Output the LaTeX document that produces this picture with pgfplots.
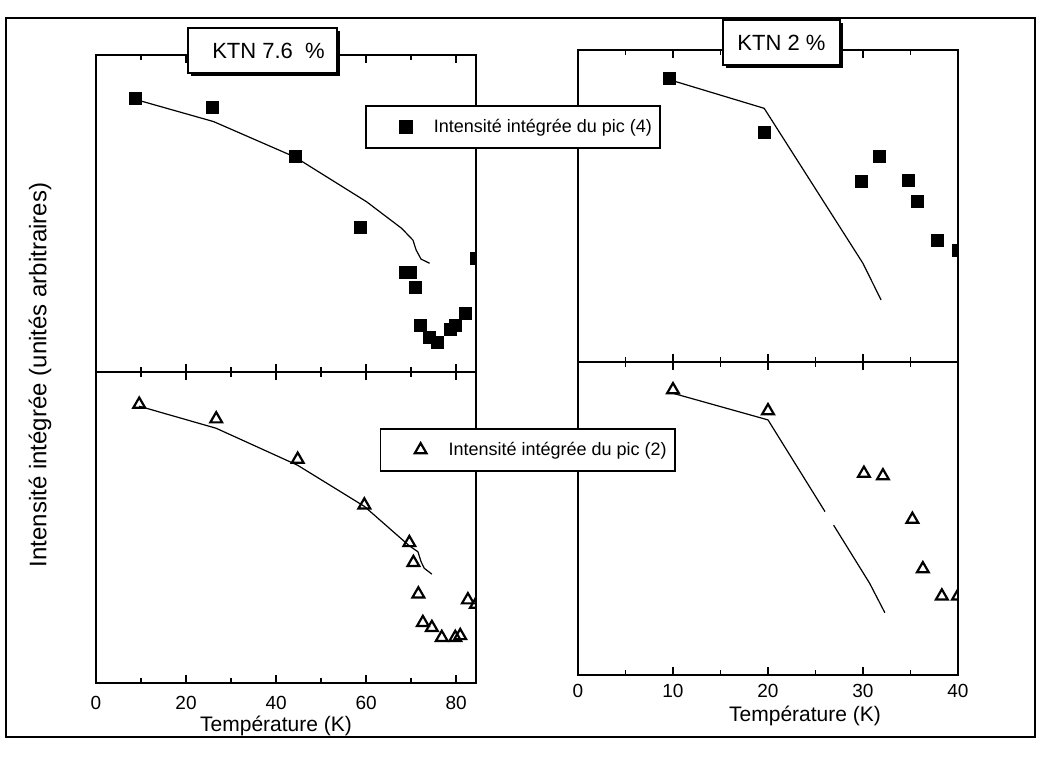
\documentclass[border=0pt]{standalone}
\usepackage{fontspec}
\setmainfont{Liberation Sans}
\usepackage{pgfplots}
\pgfplotsset{compat=1.18}
\usetikzlibrary{shadows}

\pgfplotsset{
  panel/.style={
    scale only axis, width=190pt, ymin=0, ymax=100, ytick=\empty,
    axis line style={line width=1pt},
    tick align=inside, minor x tick num=1,
    major tick length=4pt, minor tick length=2.5pt,
    every tick/.style={black, line width=0.8pt},
    clip marker paths=true,
    /pgf/number format/assume math mode=true,
    xticklabel style={font=\fontsize{9.5}{11}\selectfont},
    anchor=south west,
  },
  sq/.style={only marks, mark=square*, mark size=3pt, black},
  tri/.style={only marks, mark=triangle, mark size=3.4pt, black, mark options={line width=1.1pt}},
  fitl/.style={black, line width=0.6pt, no marks, forget plot},
  leg/.style={legend style={draw=black, line width=0.8pt, fill=white,
      inner xsep=3pt, inner ysep=5.5pt,
      nodes={inner xsep=1pt, inner ysep=1pt},
      font=\fontsize{9}{10.8}\selectfont, cells={anchor=west}}},
  legimg/.style={legend image code/.code={\path[draw=none,fill=none] (0pt,-4pt) rectangle (30pt,4pt); \draw[##1] plot coordinates {(17pt,0pt)};}},
}

\begin{document}
\begin{tikzpicture}
\useasboundingbox (0pt,0pt) rectangle (520.5pt,380pt);
\draw[line width=1.2pt] (3pt,11.5pt) rectangle (517.5pt,371pt);

% right top
\begin{axis}[panel, at={(289pt,199pt)}, height=156pt, xmin=0, xmax=40,
  xtick={0,10,...,40}, xticklabels={,,,,,}]
\addplot[fitl] coordinates {(9.6,90.5) (19.6,81.3) (30,31.6) (31.9,19.9)};
\addplot[sq] coordinates {(9.6,90.9) (19.6,73.5) (29.8,58) (31.7,65.8) (34.8,58.1) (35.7,51.4) (37.8,38.9) (40,35.7)};
\end{axis}

% right bottom
\begin{axis}[panel, at={(289pt,42.5pt)}, height=156.5pt, xmin=0, xmax=40,
  xtick={0,10,...,40}, xticklabel style={yshift=-1pt}]
\addplot[fitl] coordinates {(10,90) (20,81.5) (26,52.2)};
\addplot[fitl] coordinates {(26.9,47.9) (30.7,29.3) (32.3,19.9)};
\addplot[tri] coordinates {(10,91.1) (20,84.4) (30.1,64.4) (32.1,63.6) (35.2,49.7) (36.3,33.9) (38.3,25.2) (40,25.2)};
\end{axis}

% left top
\begin{axis}[panel, leg, at={(48pt,194pt)}, height=158.5pt, xmin=0, xmax=84.4,
  xtick={0,20,...,80}, xticklabels={,,,,,},
  legend style={at={(axis description cs:0.708,0.842)}, anchor=north west}]
\addplot[fitl] coordinates {(8.7,86) (26.1,79) (44.2,67.8) (60.1,53.7) (67.9,45.3) (70.4,41.6) (71.1,38.5) (72.2,35.6) (74.1,34.3)};
\addplot[sq, legimg] coordinates {(8.7,86.3) (25.8,83.4) (44.2,68.1) (58.8,45.6) (68.7,31.4) (69.8,31.4) (70.9,26.6) (72.0,14.6) (74.1,10.8) (75.9,9.4) (78.7,13.5) (79.9,14.6) (82.1,18.5) (84.4,35.9)};
\addlegendentry{Intensité intégrée du pic (4)}
\end{axis}

% left bottom
\begin{axis}[panel, leg, at={(48pt,38.5pt)}, height=155.5pt, xmin=0, xmax=84.4,
  xtick={0,20,...,80}, xticklabel style={yshift=-3pt},
  legend style={at={(axis description cs:0.747,0.82)}, anchor=north west}]
\addplot[fitl] coordinates {(9.6,89) (26.7,81.9) (44.8,70) (59.6,56.8) (69.6,44.1) (71.5,42.2) (72.2,39) (72.9,36.9) (74.6,35)};
\addplot[tri, legimg] coordinates {(9.6,89.6) (26.7,84.9) (44.8,71.9) (59.6,57.2) (69.6,45.1) (70.5,38.7) (71.6,28.6) (72.6,19.4) (74.6,17.8) (76.8,14.6) (79.8,14.6) (80.9,15.2) (82.6,26.7) (84.4,25.3)};
\addlegendentry{Intensité intégrée du pic (2)}
\end{axis}

% titles
\node[draw, line width=0.8pt, fill=white, minimum width=74.5pt, minimum height=22.5pt,
  drop shadow={opacity=1, fill=black, shadow xshift=1.5pt, shadow yshift=-1.5pt},
  font=\fontsize{11}{13}\selectfont] at (131.25pt,354.75pt) {\hspace{6pt}KTN 7.6~~\%};
\node[draw, line width=0.8pt, fill=white, minimum width=58.5pt, minimum height=22.5pt,
  drop shadow={opacity=1, fill=black, shadow xshift=1.5pt, shadow yshift=-1.5pt},
  font=\fontsize{11}{13}\selectfont] at (390.75pt,358.75pt) {KTN 2 \%};

% axis labels
\node[rotate=90, font=\fontsize{12}{14}\selectfont] at (20pt,192.5pt) {Intensité intégrée (unités arbitraires)};
\node[font=\fontsize{10.5}{12}\selectfont] at (138pt,17pt) {Température (K)};
\node[font=\fontsize{10.5}{12}\selectfont] at (402.5pt,22pt) {Température (K)};
\end{tikzpicture}
\end{document}
